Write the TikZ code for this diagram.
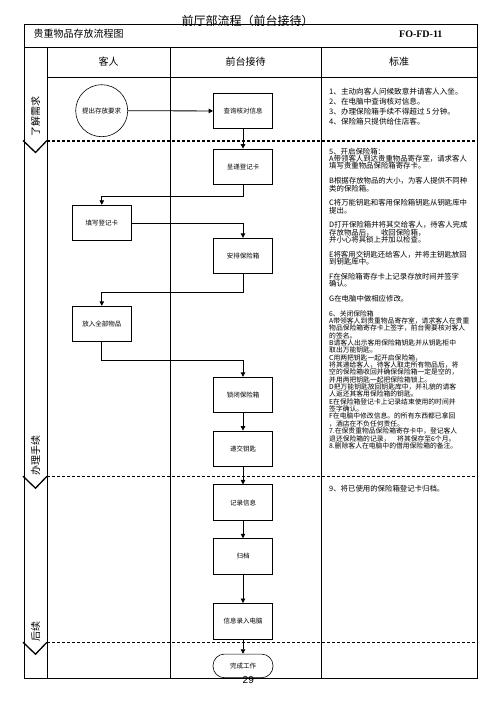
\documentclass[tikz,border=0pt]{standalone}
\usepackage{fontspec}
\setmainfont{Noto Sans CJK SC}
\newfontfamily\codefont{Liberation Serif}
\newfontfamily\pagefont{Liberation Sans}
\usetikzlibrary{arrows.meta,positioning}

\begin{document}
\begin{tikzpicture}[
  x=1pt,y=-1pt,
  node distance=17.5pt,
  flowbox/.style={draw,line width=0.8pt,minimum width=59pt,minimum height=35.5pt,
               inner sep=1pt,font=\fontsize{6.5}{7}\selectfont},
  arr/.style={-{Triangle[length=4.5pt,width=4.5pt]},line width=0.8pt},
  frameline/.style={line width=0.9pt},
  stagesep/.style={line width=1.3pt,dash pattern=on 3pt off 2pt},
  stagelabel/.style={rotate=90,font=\fontsize{10}{10}\selectfont},
  stdtext/.style={anchor=north west,align=left,inner sep=0pt}
]
\useasboundingbox (0,0) rectangle (497,703);
% frame and lanes
\draw[frameline] (24,24) rectangle (477,678);
\draw[frameline] (24,47) -- (477,47);
\draw[frameline] (47,77) -- (477,77);
\draw[frameline] (47,47) -- (47,678);
\draw[frameline] (170,47) -- (170,678);
\draw[frameline] (321,47) -- (321,678);
\node[font=\fontsize{12}{12}\selectfont] (title) at (247.5,20.5) {前厅部流程（前台接待）};
\node[anchor=west,font=\fontsize{10}{10}\selectfont] (flowname) at (30,34) {贵重物品存放流程图};
\node[anchor=east,font=\codefont\bfseries\fontsize{10}{10}\selectfont] (formcode) at (446,34) {FO-FD-11};
\node[font=\fontsize{10}{10}\selectfont] (guesthead) at (108.5,61.7) {客人};
\node[font=\fontsize{10}{10}\selectfont] (deskhead) at (245.5,61.7) {前台接待};
\node[font=\fontsize{10}{10}\selectfont] (stdhead) at (399,61.7) {标准};
% stage separators
\draw[stagesep] (47,141) -- (477,141);
\draw[stagesep] (47,476.7) -- (477,476.7);
\draw[stagesep] (47,642.7) -- (477,642.7);
\draw[line width=1.3pt] (23,140.5) -- (35.5,152.5) -- (47,140.5);
\draw[line width=1.3pt] (23,476.2) -- (35.5,488.2) -- (47,476.2);
\draw[line width=1.3pt] (23,642.2) -- (35.5,654.2) -- (47,642.2);
\node[stagelabel] (stage1) at (35.5,117) {了解需求};
\node[stagelabel] (stage2) at (35.5,455) {办理手续};
\node[stagelabel] (stage3) at (35.5,631) {后续};
% flow
\node[draw,circle,minimum size=52pt,line width=0.6pt,inner sep=0pt,
      font=\fontsize{6.5}{7}\selectfont] (request) at (101.7,110.7) {提出存放要求};
\node[flowbox] (check) at (243,111) {查询核对信息};
\node[flowbox,below=19.5pt of check] (card) {呈递登记卡};
\node[flowbox] (fillcard) at (101.8,223) {填写登记卡};
\node[flowbox] (arrange) at (243,256) {安排保险箱};
\node[flowbox] (putin) at (101.8,324) {放入全部物品};
\node[flowbox] (lockbox) at (243,395) {锁闭保险箱};
\node[flowbox,below=of lockbox] (handkey) {递交钥匙};
\node[flowbox,below=of handkey] (record) {记录信息};
\node[flowbox,below=of record] (archive) {归档};
\node[flowbox,below=28.5pt of archive] (input) {信息录入电脑};
\node[draw,line width=0.6pt,rounded corners=11.5pt,minimum width=60pt,minimum height=23.7pt,
      font=\fontsize{6.5}{7}\selectfont,below=14.4pt of input] (finish) {完成工作};
\draw[arr] (request) -- (check);
\draw[arr] (check) -- (card);
\draw[arr] (card.south) -- ++(0,11) -| (fillcard.north);
\draw[arr] (fillcard.east) -| (arrange.north);
\draw[arr] (arrange.south) -- ++(0,18) -| (putin.north);
\draw[arr] (putin.south) -- ++(0,18) -| (lockbox.north);
\draw[arr] (lockbox) -- (handkey);
\draw[arr] (handkey) -- (record);
\draw[arr] (record) -- (archive);
\draw[arr] (archive) -- (input);
\draw[arr] (input) -- (finish);
% standards
\node[stdtext,font=\fontsize{7.6}{10}\selectfont] (std1) at (329,87.9) {%
1、主动向客人问候致意并请客人入坐。\\
2、在电脑中查询核对信息。\\
3、办理保险箱手续不得超过 5 分钟。\\
4、保险箱只提供给住店客。};
\node[stdtext,font=\fontsize{7.4}{7.35}\selectfont] (std2) at (329,147.8) {%
5、开启保险箱：\\
A带领客人到达贵重物品寄存室，请求客人\\
填写贵重物品保险箱寄存卡。\\[7.35pt]
B根据存放物品的大小，为客人提供不同种\\
类的保险箱。\\[7.35pt]
C将万能钥匙和客用保险箱钥匙从钥匙库中\\
提出。\\[7.35pt]
D打开保险箱并将其交给客人，待客人完成\\
存放物品后，\quad 收回保险箱，\\
并小心将其锁上并加以检查。\\[7.35pt]
E将客用交钥匙还给客人，并将主钥匙放回\\
到钥匙库中。\\[7.35pt]
F在保险箱寄存卡上记录存放时间并签字\\
确认。\\[7.35pt]
G在电脑中做相应修改。};
\node[stdtext,font=\fontsize{6.8}{7.35}\selectfont] (std3) at (329,310.1) {%
6、关闭保险箱\\
A带领客人到贵重物品寄存室，请求客人在贵重\\
物品保险箱寄存卡上签字，前台需要核对客人\\
的签名。\\
B请客人出示客用保险箱钥匙并从钥匙柜中\\
取出万能钥匙。\\
C用两把钥匙一起开启保险箱，\\
将其递给客人，待客人取走所有物品后，将\\
空的保险箱收回并确保保险箱一定是空的，\\
并用两把钥匙一起把保险箱锁上。\\
D把万能钥匙放回钥匙库中，并礼貌的请客\\
人返还其客用保险箱的钥匙。\\
E在保险箱登记卡上记录结束使用的时间并\\
签字确认。\\
F在电脑中修改信息。的所有东西都已拿回\\
，酒店在不负任何责任。\\
7.在保贵重物品保险箱寄存卡中，登记客人\\
退还保险箱的记录，\quad 将其保存至6个月。\\
8.删除客人在电脑中的借用保险箱的备注。};
\node[stdtext,font=\fontsize{7.4}{7.35}\selectfont] (std4) at (329,485.3) {9、将已使用的保险箱登记卡归档。};
\node[font=\pagefont\fontsize{10}{10}\selectfont] (pagenum) at (248.3,680.5) {29};
\end{tikzpicture}
\end{document}
